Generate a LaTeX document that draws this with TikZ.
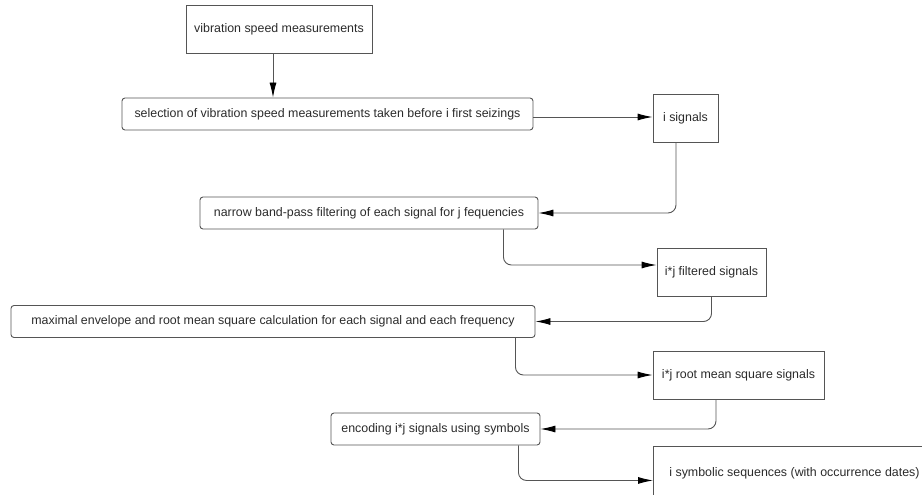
\documentclass[tikz,border=0pt]{standalone}
\usepackage{fontspec}
\setmainfont{Liberation Sans}
\usetikzlibrary{arrows.meta}
\definecolor{linegray}{HTML}{555555}
\definecolor{textgray}{HTML}{2a2a2a}
\begin{document}
\begin{tikzpicture}[x=1pt, y=-1pt, >={Latex[length=15pt,width=7pt,color=black]},
	data/.style={draw=linegray, line width=.9pt, text=textgray, minimum height=48pt, inner sep=0pt, font=\fontsize{12.4}{14}\selectfont},
	proc/.style={draw=linegray, line width=.9pt, rounded corners=3pt, text=textgray, minimum height=32pt, inner sep=0pt, font=\fontsize{12.4}{14}\selectfont},
	flow/.style={->, draw=linegray, line width=.9pt, rounded corners=8pt}]
	\clip (0,0) rectangle (922,495);
	% data boxes
	\node[data, minimum width=186pt] (meas) at (279,29.5) {vibration speed measurements};
	\node[data, minimum width=65pt] (isig) at (685.5,118.5) {i signals};
	\node[data, minimum width=109pt] (filt) at (711.5,272.5) {i*j filtered signals};
	\node[data, minimum width=171pt] (rms) at (738.5,375) {i*j root mean square signals};
	\node[data, minimum width=282pt, minimum height=54pt, anchor=north west, inner xsep=14pt, align=left] (seqs) at (653,446) {i symbolic sequences (with occurrence dates)};
	% processing steps
	\node[proc, minimum width=411pt] (select) at (327.5,114) {selection of vibration speed measurements taken before i first seizings};
	\node[proc, minimum width=338pt] (filter) at (369,213) {narrow band-pass filtering of each signal for j fequencies};
	\node[proc, minimum width=524pt] (envel) at (273,321.5) {maximal envelope and root mean square calculation for each signal and each frequency};
	\node[proc, minimum width=209pt] (encode) at (435.5,429) {encoding i*j signals using symbols};
	% connectors
	\draw[flow] ([xshift=-6pt]meas.south) -- ([xshift=-6pt]meas.south |- select.north);
	\draw[flow] ([yshift=-3pt]select.east) -- ([yshift=-3pt]select.east -| isig.west);
	\draw[flow] ([xshift=-9.5pt]isig.south) |- (filter.east);
	\draw[flow] ([xshift=-35pt]filter.south east) |- ([yshift=7.5pt]filt.west);
	\draw[flow] (filt.south) |- (envel.east);
	\draw[flow] ([xshift=-20pt]envel.south east) |- (rms.west);
	\draw[flow] ([xshift=-22.5pt]rms.south) |- (encode.east);
	\draw[flow] ([xshift=-22pt]encode.south east) |- ([yshift=-7pt]seqs.west);
\end{tikzpicture}
\end{document}
